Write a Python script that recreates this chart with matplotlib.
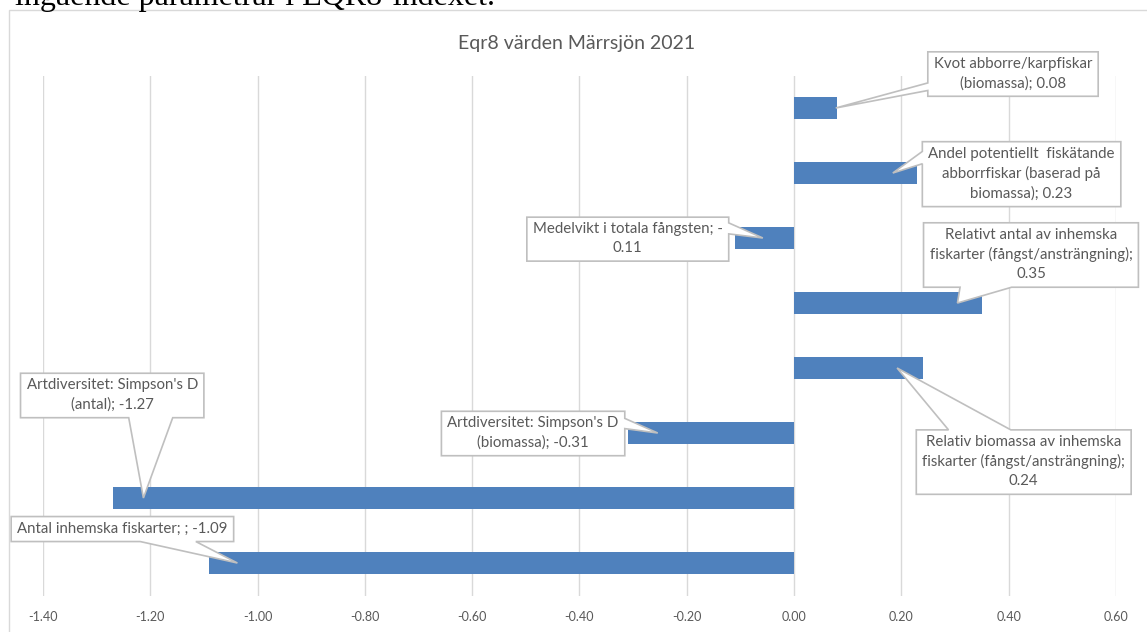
import matplotlib
matplotlib.use("Agg")
import matplotlib.pyplot as plt
from matplotlib.patches import Polygon, Rectangle
from matplotlib.transforms import IdentityTransform

# ---- data -------------------------------------------------------------
categories = [
    "Antal inhemska fiskarter; ",
    "Artdiversitet: Simpson's D (antal)",
    "Artdiversitet: Simpson's D (biomassa)",
    "Relativ biomassa av inhemska fiskarter (fångst/ansträngning)",
    "Relativt antal av inhemska fiskarter (fångst/ansträngning)",
    "Medelvikt i totala fångsten",
    "Andel potentiellt  fiskätande abborrfiskar (baserad på biomassa)",
    "Kvot abborre/karpfiskar (biomassa)",
]
values = [-1.09, -1.27, -0.31, 0.24, 0.35, -0.11, 0.23, 0.08]

x_ticks = [-1.40, -1.20, -1.00, -0.80, -0.60, -0.40, -0.20, 0.00, 0.20, 0.40, 0.60]
x_tick_labels = ["-1.40", "-1.20", "-1.00", "-0.80", "-0.60", "-0.40",
                 "-0.20", "0.00", "0.20", "0.40", "0.60"]

title = "Eqr8 värden Märrsjön 2021"
heading_text = "ingående parametrar i EQR8-indexet."

# callout text layout: {v} value, {s} sign, {a} absolute value
label_templates = [
    "Antal inhemska fiskarter; ; {v}",
    "Artdiversitet: Simpson's D\n(antal); {v}",
    "Artdiversitet: Simpson's D\n(biomassa); {v}",
    "Relativ biomassa av inhemska\nfiskarter (fångst/ansträngning);\n{v}",
    "Relativt antal av inhemska\nfiskarter (fångst/ansträngning);\n{v}",
    "Medelvikt i totala fångsten; {s}\n{a}",
    "Andel potentiellt  fiskätande\nabborrfiskar (baserad på\nbiomassa); {v}",
    "Kvot abborre/karpfiskar\n(biomassa); {v}",
]

# callout placement: box centre (data x, category position), pointer tip as
# fraction of the bar length, edge the pointer leaves from and its span
box_centres = [(-1.252, 0.53), (-1.271, 2.585), (-0.4865, 2.0), (0.428, 1.56),
               (0.4415, 4.746), (-0.310, 4.99), (0.424, 5.99), (0.408, 7.53)]
tip_fraction = [0.952, 0.955, 0.82, 0.80, 0.87, 0.53, 0.80, 0.97]
pointer_edge = ["bottom", "bottom", "right", "top", "bottom", "right", "left", "left"]
pointer_span = [(0.58, 0.83), (0.59, 0.83), (0.16, 0.39), (0.15, 0.44),
                (0.17, 0.41), (0.13, 0.38), (0.15, 0.34), (0.70, 0.87)]

BAR = "#4F81BD"
TEXT = "#595959"
GRID = "#D9D9D9"
CALLOUT_EDGE = "#BFBFBF"
W, H = 1147, 632

plt.rcParams["font.family"] = ["Lato", "DejaVu Sans"]

fig = plt.figure(figsize=(W / 100, H / 100), dpi=100)
fig.patch.set_facecolor("white")

# chart frame
fig.add_artist(Rectangle((8.5 / W, -0.05), 2.0, 622.5 / H + 0.05,
                         transform=fig.transFigure, fill=False,
                         edgecolor=GRID, linewidth=1))

fig.text(15 / W, 1 - 4.5 / H, heading_text, family=["Liberation Serif"],
         fontsize=23, color="black", ha="left", va="baseline")

ax = fig.add_axes([43 / W, (H - 595.5) / H, (1116 - 43) / W, 520 / H])
y_pos = list(range(len(values)))
ax.barh(y_pos, values, height=0.34, color=BAR, zorder=2)
ax.set_xlim(-1.4, 0.6)
ax.set_ylim(-0.5, 7.5)
ax.set_xticks(x_ticks)
ax.set_xticklabels(x_tick_labels)
ax.set_yticks([])
ax.tick_params(axis="x", length=0, pad=11, labelcolor=TEXT, labelsize=9)
ax.grid(axis="x", color=GRID, linewidth=1)
ax.set_axisbelow(True)
for s in ax.spines.values():
    s.set_visible(False)

fig.text(577 / W, 1 - 43 / H, title, ha="center", va="center",
         fontsize=14, color=TEXT)


def label_text(template, v):
    return template.format(v=f"{v:.2f}", s="-" if v < 0 else "",
                           a=f"{abs(v):.2f}")


def callout_points(x0, x1, y0, y1, tip, edge, span):
    w, h = x1 - x0, y1 - y0
    f0, f1 = span
    pts = [(x0, y1)]
    if edge == "top":
        pts += [(x0 + f0 * w, y1), tip, (x0 + f1 * w, y1)]
    pts.append((x1, y1))
    if edge == "right":
        pts += [(x1, y1 - f0 * h), tip, (x1, y1 - f1 * h)]
    pts.append((x1, y0))
    if edge == "bottom":
        pts += [(x0 + f1 * w, y0), tip, (x0 + f0 * w, y0)]
    pts.append((x0, y0))
    if edge == "left":
        pts += [(x0, y1 - f1 * h), tip, (x0, y1 - f0 * h)]
    return pts


fig.canvas.draw()
renderer = fig.canvas.get_renderer()
for i, v in enumerate(values):
    bx, by = box_centres[i]
    t = ax.text(bx, by, label_text(label_templates[i], v), ha="center",
                va="center", fontsize=10.8, color=TEXT, linespacing=1.45,
                zorder=6, clip_on=False, multialignment="center")
    bb = t.get_window_extent(renderer)
    x0, x1 = bb.x0 - 6, bb.x1 + 6
    y0, y1 = bb.y0 - 6, bb.y1 + 5
    tip = tuple(ax.transData.transform((v * tip_fraction[i], y_pos[i])))
    poly = Polygon(callout_points(x0, x1, y0, y1, tip, pointer_edge[i],
                                  pointer_span[i]),
                   closed=True, facecolor="white", edgecolor=CALLOUT_EDGE,
                   linewidth=1.2, transform=IdentityTransform(), zorder=5)
    poly.set_clip_on(False)
    ax.add_artist(poly)

fig.savefig("out.png", dpi=100)
